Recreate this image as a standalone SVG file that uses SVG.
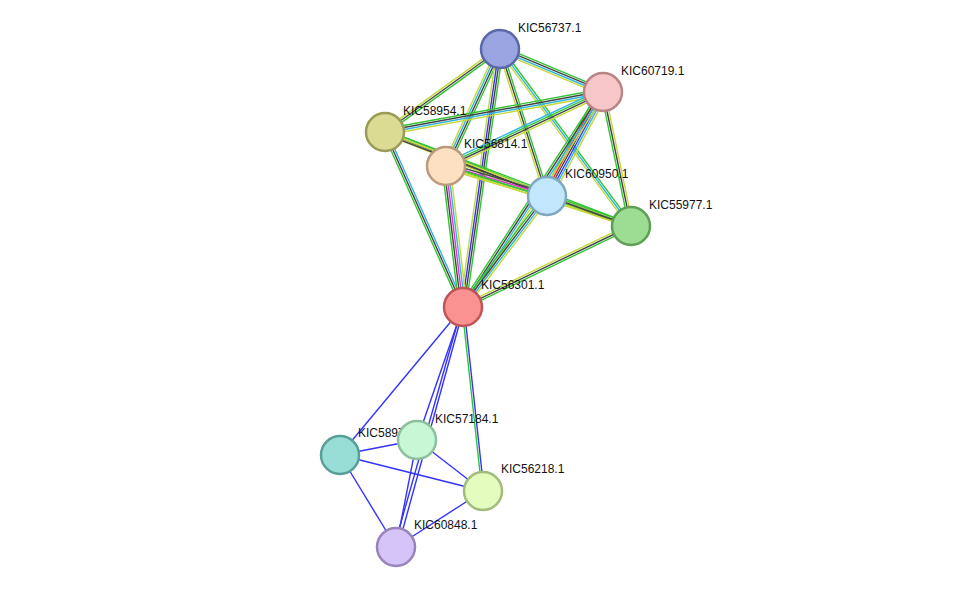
<svg xmlns="http://www.w3.org/2000/svg" width="975" height="592" viewBox="0 0 975 592">
<style>
line{stroke-width:1.4;fill:none}
.g{stroke:#33c433}.k{stroke:#444}.y{stroke:#c4d838}.c{stroke:#33b5dd}.b{stroke:#3333ff}.r{stroke:#ff2222}.m{stroke:#dd33dd}
circle{stroke-width:2.5}
text{font-family:"Liberation Sans",Arial,sans-serif;font-size:12px;fill:#111}
</style>
<rect width="975" height="592" fill="#fff"/>
<g id="connectors">
<g transform="translate(500,49) rotate(22.7)"><line class="g" x1="0" y1="-3" x2="111.6" y2="-3"/><line class="k" x1="0" y1="-1" x2="111.6" y2="-1"/><line class="c" x1="0" y1="1" x2="111.6" y2="1"/><line class="y" x1="0" y1="3" x2="111.6" y2="3"/></g>
<g transform="translate(500,49) rotate(144.2)"><line class="g" x1="0" y1="-2" x2="141.8" y2="-2"/><line class="k" x1="0" y1="0" x2="141.8" y2="0"/><line class="y" x1="0" y1="2" x2="141.8" y2="2"/></g>
<g transform="translate(500,49) rotate(114.8)"><line class="g" x1="0" y1="-3" x2="128.9" y2="-3"/><line class="k" x1="0" y1="-1" x2="128.9" y2="-1"/><line class="c" x1="0" y1="1" x2="128.9" y2="1"/><line class="y" x1="0" y1="3" x2="128.9" y2="3"/></g>
<g transform="translate(500,49) rotate(72.3)"><line class="g" x1="0" y1="-2" x2="154.3" y2="-2"/><line class="k" x1="0" y1="0" x2="154.3" y2="0"/><line class="y" x1="0" y1="2" x2="154.3" y2="2"/></g>
<g transform="translate(500,49) rotate(53.5)"><line class="g" x1="0" y1="-2" x2="220.2" y2="-2"/><line class="c" x1="0" y1="0" x2="220.2" y2="0"/><line class="y" x1="0" y1="2" x2="220.2" y2="2"/></g>
<g transform="translate(500,49) rotate(98.2)"><line class="g" x1="0" y1="-3" x2="260.6" y2="-3"/><line class="k" x1="0" y1="-1" x2="260.6" y2="-1"/><line class="b" x1="0" y1="1" x2="260.6" y2="1"/><line class="y" x1="0" y1="3" x2="260.6" y2="3"/></g>
<g transform="translate(603,92) rotate(169.6)"><line class="y" x1="0" y1="-3" x2="221.6" y2="-3"/><line class="c" x1="0" y1="-1" x2="221.6" y2="-1"/><line class="k" x1="0" y1="1" x2="221.6" y2="1"/><line class="g" x1="0" y1="3" x2="221.6" y2="3"/></g>
<g transform="translate(603,92) rotate(154.8)"><line class="y" x1="0" y1="-3" x2="173.6" y2="-3"/><line class="k" x1="0" y1="-1" x2="173.6" y2="-1"/><line class="g" x1="0" y1="1" x2="173.6" y2="1"/><line class="c" x1="0" y1="3" x2="173.6" y2="3"/></g>
<g transform="translate(603,92) rotate(118.3)"><line class="y" x1="0" y1="-5" x2="118.1" y2="-5"/><line class="c" x1="0" y1="-3" x2="118.1" y2="-3"/><line class="b" x1="0" y1="-1" x2="118.1" y2="-1"/><line class="k" x1="0" y1="1" x2="118.1" y2="1"/><line class="r" x1="0" y1="3" x2="118.1" y2="3"/><line class="g" x1="0" y1="5" x2="118.1" y2="5"/></g>
<g transform="translate(603,92) rotate(78.2)"><line class="y" x1="0" y1="-2" x2="136.9" y2="-2"/><line class="k" x1="0" y1="0" x2="136.9" y2="0"/><line class="g" x1="0" y1="2" x2="136.9" y2="2"/></g>
<g transform="translate(603,92) rotate(123.1)"><line class="y" x1="0" y1="-3" x2="256.6" y2="-3"/><line class="c" x1="0" y1="-1" x2="256.6" y2="-1"/><line class="k" x1="0" y1="1" x2="256.6" y2="1"/><line class="g" x1="0" y1="3" x2="256.6" y2="3"/></g>
<g transform="translate(385,132) rotate(21.6)"><line class="g" x1="0" y1="-2" x2="174.2" y2="-2"/><line class="k" x1="0" y1="0" x2="174.2" y2="0"/><line class="y" x1="0" y1="2" x2="174.2" y2="2"/></g>
<g transform="translate(385,132) rotate(20.9)"><line class="g" x1="0" y1="-2" x2="263.3" y2="-2"/><line class="y" x1="0" y1="0" x2="263.3" y2="0"/><line class="k" x1="0" y1="2" x2="263.3" y2="2"/></g>
<g transform="translate(385,132) rotate(66.0)"><line class="c" x1="0" y1="-2" x2="191.6" y2="-2"/><line class="k" x1="0" y1="0" x2="191.6" y2="0"/><line class="g" x1="0" y1="2" x2="191.6" y2="2"/></g>
<g transform="translate(446,166) rotate(16.5)"><line class="k" x1="0" y1="-3" x2="105.4" y2="-3"/><line class="m" x1="0" y1="-1" x2="105.4" y2="-1"/><line class="g" x1="0" y1="1" x2="105.4" y2="1"/><line class="y" x1="0" y1="3" x2="105.4" y2="3"/></g>
<g transform="translate(446,166) rotate(18.0)"><line class="g" x1="0" y1="-1" x2="194.5" y2="-1"/><line class="y" x1="0" y1="1" x2="194.5" y2="1"/></g>
<g transform="translate(446,166) rotate(83.1)"><line class="y" x1="0" y1="-4" x2="142" y2="-4"/><line class="c" x1="0" y1="-2" x2="142" y2="-2"/><line class="m" x1="0" y1="0" x2="142" y2="0"/><line class="k" x1="0" y1="2" x2="142" y2="2"/><line class="g" x1="0" y1="4" x2="142" y2="4"/></g>
<g transform="translate(547,196) rotate(19.7)"><line class="g" x1="0" y1="-2" x2="89.2" y2="-2"/><line class="k" x1="0" y1="0" x2="89.2" y2="0"/><line class="y" x1="0" y1="2" x2="89.2" y2="2"/></g>
<g transform="translate(547,196) rotate(127.1)"><line class="y" x1="0" y1="-3" x2="139.2" y2="-3"/><line class="c" x1="0" y1="-1" x2="139.2" y2="-1"/><line class="k" x1="0" y1="1" x2="139.2" y2="1"/><line class="g" x1="0" y1="3" x2="139.2" y2="3"/></g>
<g transform="translate(631,226) rotate(154.3)"><line class="g" x1="0" y1="-2" x2="186.5" y2="-2"/><line class="k" x1="0" y1="0" x2="186.5" y2="0"/><line class="y" x1="0" y1="2" x2="186.5" y2="2"/></g>
<line class="b" x1="463" y1="307" x2="340" y2="455"/>
<line class="b" x1="463" y1="307" x2="417" y2="440"/>
<line class="b" x1="462" y1="307" x2="394" y2="547"/>
<line class="b" x1="464" y1="307" x2="398" y2="547"/>
<line class="g" x1="462" y1="307" x2="482" y2="491"/>
<line class="b" x1="464" y1="307" x2="484" y2="491"/>
<line class="b" x1="340" y1="455" x2="417" y2="440"/>
<line class="b" x1="340" y1="455" x2="483" y2="491"/>
<line class="b" x1="340" y1="455" x2="396" y2="547"/>
<line class="b" x1="417" y1="440" x2="483" y2="491"/>
<line class="b" x1="417" y1="440" x2="396" y2="547"/>
<line class="b" x1="483" y1="491" x2="396" y2="547"/>
</g>
<g id="n56737"><circle cx="500" cy="49" r="19" fill="#9aa4e0" stroke="#5a68a8"/><text x="518" y="32">KIC56737.1</text></g>
<g id="n60719"><circle cx="603" cy="92" r="19" fill="#f6c6c8" stroke="#b88486"/><text x="621" y="75">KIC60719.1</text></g>
<g id="n58954"><circle cx="385" cy="132" r="19" fill="#dcdb94" stroke="#9b9a58"/><text x="403" y="115">KIC58954.1</text></g>
<g id="n56814"><circle cx="446" cy="166" r="19" fill="#fde0c2" stroke="#bb9a7c"/><text x="464" y="148">KIC56814.1</text></g>
<g id="n60950"><circle cx="547" cy="196" r="19" fill="#c2e6fb" stroke="#7ea7c0"/><text x="565" y="178">KIC60950.1</text></g>
<g id="n55977"><circle cx="631" cy="226" r="19" fill="#9ddd93" stroke="#5f9e56"/><text x="649" y="209">KIC55977.1</text></g>
<g id="n56301"><circle cx="463" cy="307" r="19" fill="#fb9292" stroke="#c05555"/><text x="481" y="289">KIC56301.1</text></g>
<g id="n58973"><circle cx="340" cy="455" r="19" fill="#99ddd7" stroke="#5a9e98"/><text x="358" y="437">KIC58973.1</text></g>
<g id="n57184"><circle cx="417" cy="440" r="19" fill="#c8f7d6" stroke="#8bc09a"/><text x="435" y="423">KIC57184.1</text></g>
<g id="n56218"><circle cx="483" cy="491" r="19" fill="#e5fcbf" stroke="#a3bb7c"/><text x="501" y="473">KIC56218.1</text></g>
<g id="n60848"><circle cx="396" cy="547" r="19" fill="#d5c4f8" stroke="#9883bb"/><text x="414" y="529">KIC60848.1</text></g>
</svg>
